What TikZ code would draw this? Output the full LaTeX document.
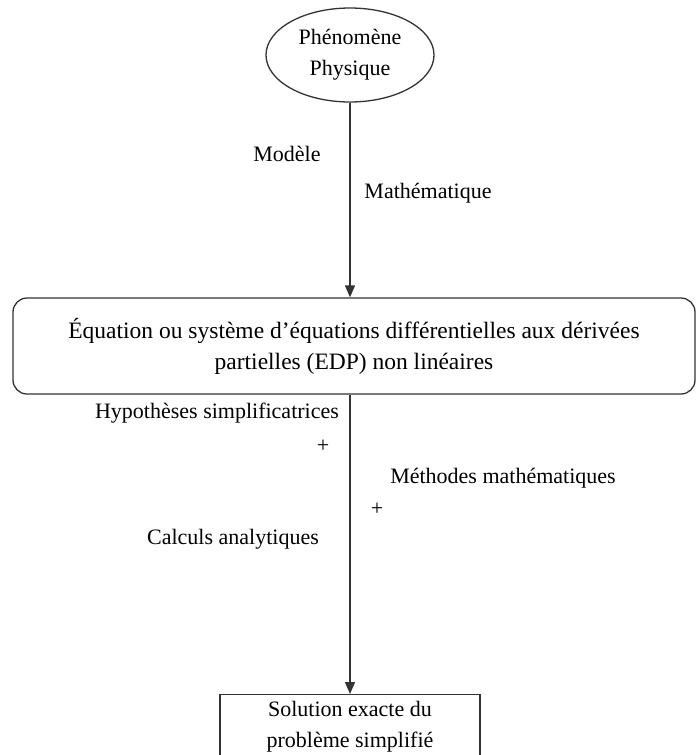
\documentclass[tikz,border=0pt]{standalone}
\usepackage{fontspec}
\setmainfont{Liberation Serif}
\usetikzlibrary{shapes.geometric,arrows.meta}
\begin{document}
\begin{tikzpicture}[x=1pt,y=-1pt,
  every node/.style={font=\fontsize{22}{31}\selectfont},
  lbl/.style={inner sep=0pt},
  shp/.style={draw=black!80, line width=1.3pt},
  conn/.style={draw=black!80, line width=1.5pt, -{Triangle[length=12pt,width=10pt]}}]
\useasboundingbox[fill=white] (0,0) rectangle (697,755);
\node[shp, ellipse, minimum width=168pt, minimum height=94pt, align=center, inner sep=0pt] (phen) at (350,55) {Phénomène\\Physique};
\node[shp, rounded corners=14pt, minimum width=682pt, minimum height=96pt, align=center, font=\fontsize{23.5}{31}\selectfont] (edp) at (354,346) {Équation ou système d’équations différentielles aux dérivées\\partielles (EDP) non linéaires};
\node[shp, anchor=north, align=center, minimum width=260pt, inner ysep=7pt, text depth=22pt] (sol) at (350,694) {Solution exacte du\\problème simplifié};
\coordinate (top1) at (phen.south -| sol.north);
\draw[conn] (top1) -- (top1 |- edp.north);
\coordinate (top2) at (edp.south -| sol.north);
\draw[conn] (top2) -- (sol.north);
\node[lbl] (m1) at (287,154) {Modèle};
\node[lbl] (m2) at (428,193) {Mathématique};
\node[lbl] (h1) at (217,413) {Hypothèses simplificatrices};
\node[lbl] (p1) at (323,446) {+};
\node[lbl] (h2) at (503,478) {Méthodes mathématiques};
\node[lbl] (p2) at (377,509) {+};
\node[lbl] (h3) at (233,539) {Calculs analytiques};
\end{tikzpicture}
\end{document}
